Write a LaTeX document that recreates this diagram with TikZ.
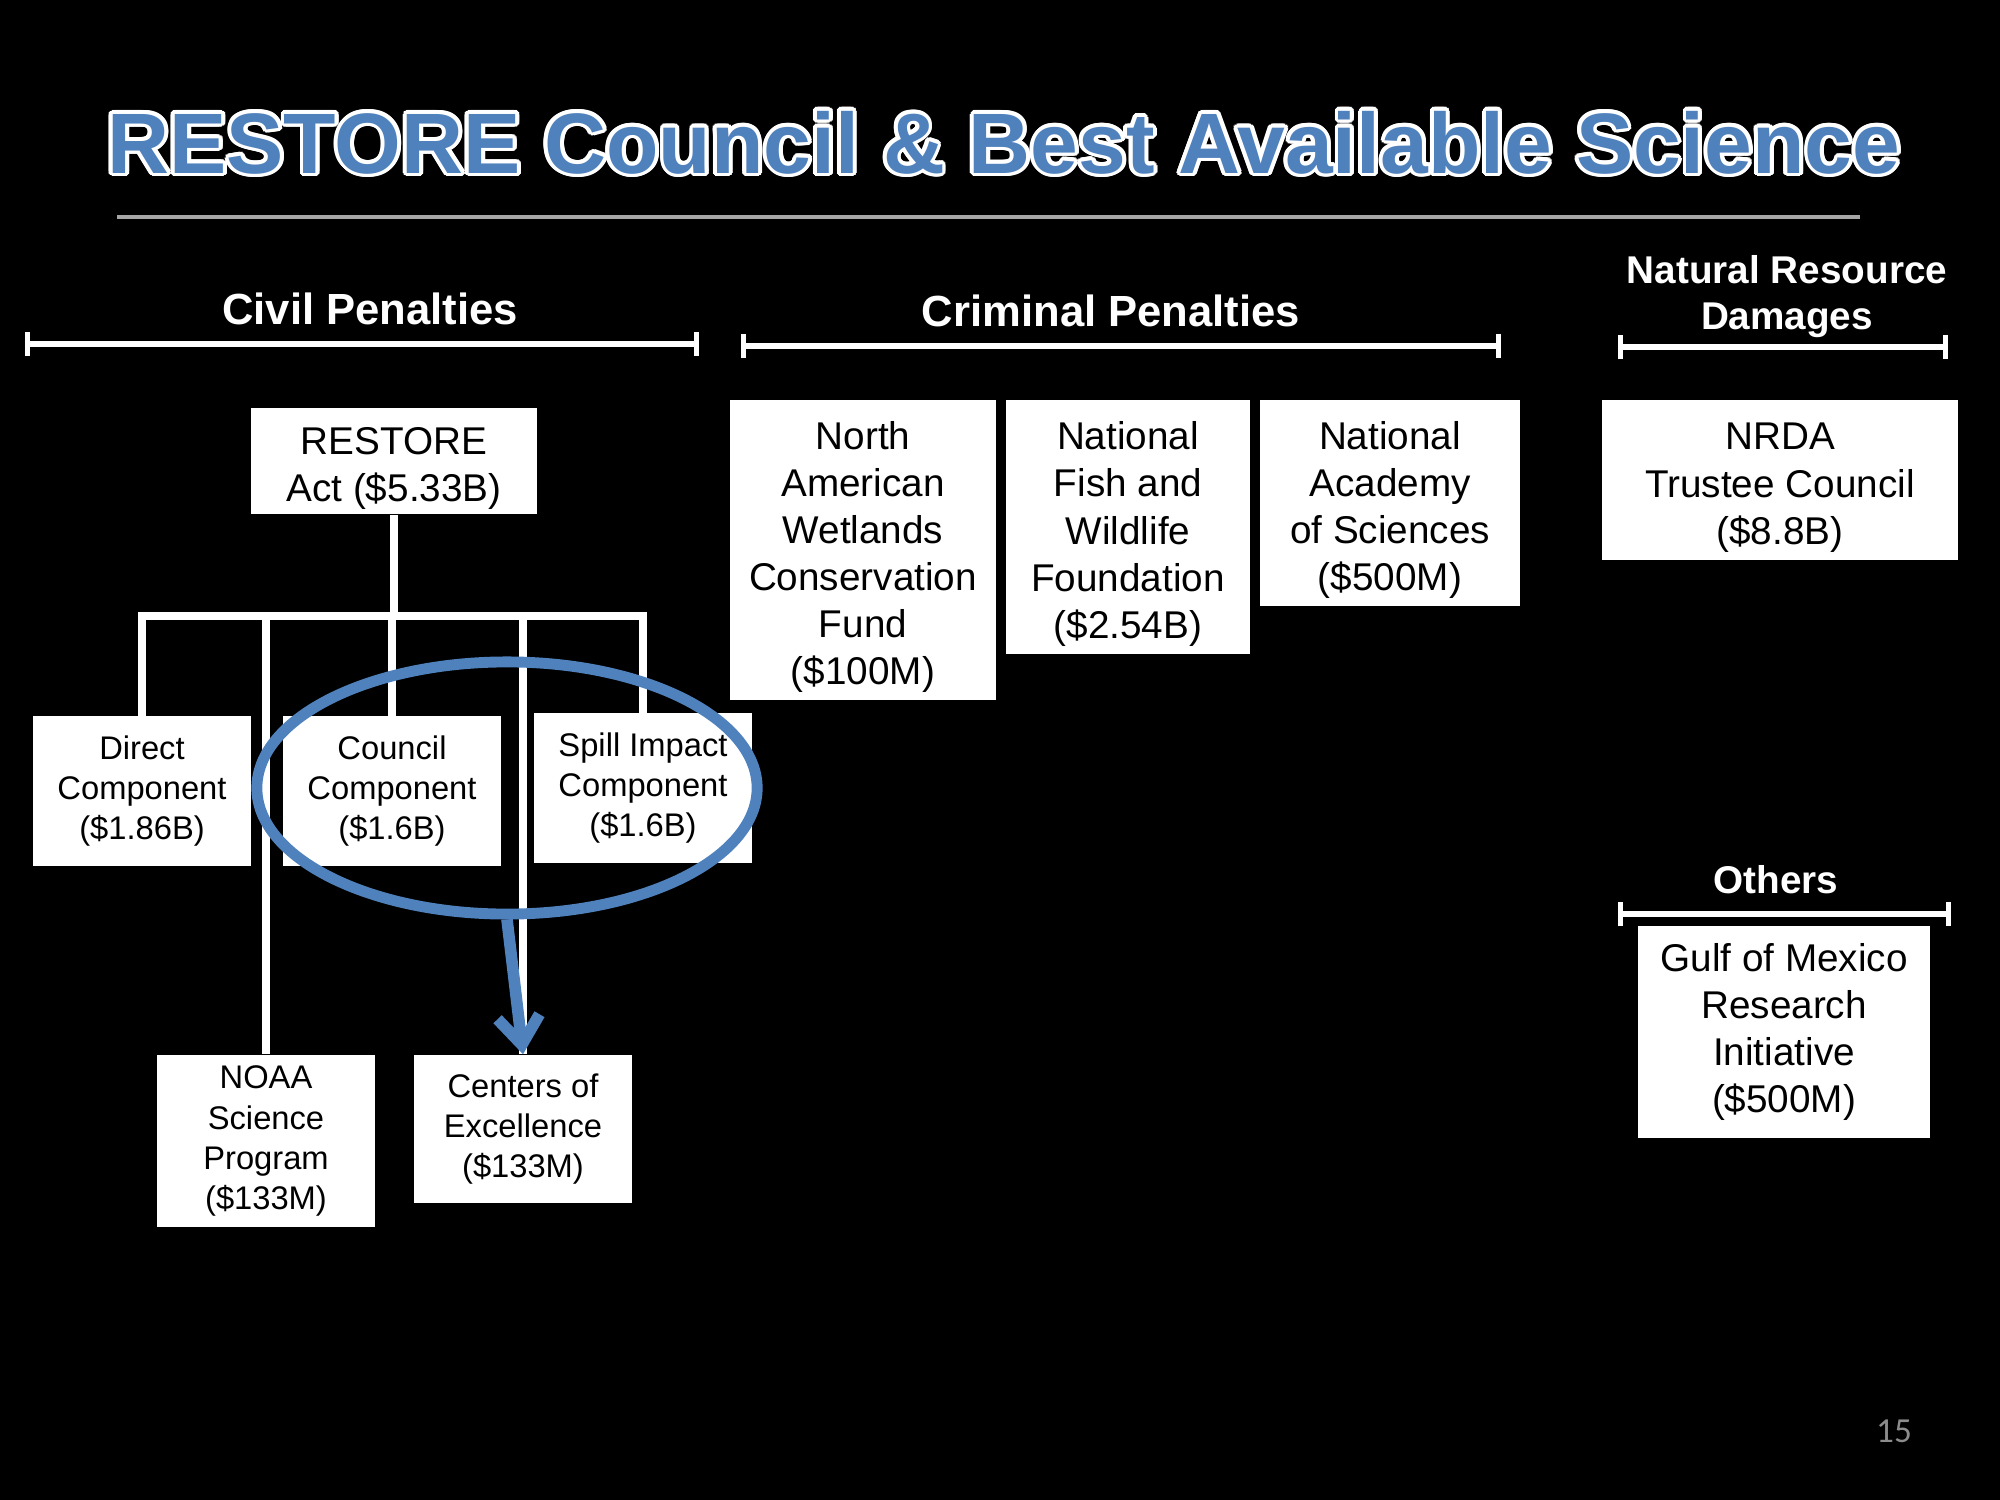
\documentclass[tikz,border=0pt]{standalone}
\usepackage{fontspec}
\setmainfont{Liberation Sans}
\newfontfamily\slidenum{Carlito}
\usetikzlibrary{shapes.geometric, arrows.meta, positioning}
\definecolor{slideBlue}{HTML}{4F81BD}
\definecolor{ruleGray}{HTML}{A6A6A6}
\definecolor{numGray}{HTML}{8C8C8C}
\newcommand{\lift}{\rule{0pt}{12pt}}
\tikzset{
  titletext/.style = {anchor=base, inner sep=0pt,
                      font=\bfseries\fontsize{24.4}{28}\selectfont},
  fundbox/.style   = {rectangle, fill=white, text=black, align=center,
                      inner sep=0pt, font=\fontsize{11}{13.4}\selectfont},
  subbox/.style    = {fundbox, font=\fontsize{9.3}{11.4}\selectfont},
  header/.style    = {text=white, align=center, inner sep=0pt,
                      font=\bfseries\fontsize{12.4}{14}\selectfont},
  smallheader/.style = {header, font=\bfseries\fontsize{11}{13.1}\selectfont},
  bracket/.style   = {draw=white, line width=1.5pt,
                      {Bar[width=7pt]}-{Bar[width=7pt]}},
  tree/.style      = {draw=white, line width=2pt},
  ring/.style      = {draw=slideBlue, line width=3.1pt, ellipse, inner sep=0pt},
  ringarrow/.style = {draw=slideBlue, line width=3.3pt,
                      -{Straight Barb[length=8pt, width=12pt]}},
}

\begin{document}
\begin{tikzpicture}[x=0.01cm, y=-0.01cm]

% Slide background
\fill[black] (0,0) rectangle (2000,1500);
\useasboundingbox (0,0) rectangle (2000,1500);

% Title with white outline
\foreach \a [count=\k] in {0,22.5,...,337.5}
  \node[titletext, text=white, shift={(\a:1.1pt)}] (glow\k) at (1004,173)
    {RESTORE Council \& Best Available Science};
\node[titletext, text=slideBlue] (title) at (1004,173)
  {RESTORE Council \& Best Available Science};
\draw[ruleGray, line width=1.4pt] (117,217) -- (1860,217);

% Headers
\node[header] (civil)    at (370,309)  {Civil Penalties};
\node[header] (criminal) at (1111,311) {Criminal Penalties};
\node[smallheader] (nrd)    at (1787,297) {Natural Resource\\Damages};
\node[smallheader] (others) at (1776,880) {Others};

% Brackets
\coordinate (civL) at (25,344);   \coordinate (civR) at (699,344);
\coordinate (crmL) at (741,346);  \coordinate (crmR) at (1501,346);
\coordinate (nrdL) at (1618,347); \coordinate (nrdR) at (1948,347);
\coordinate (othL) at (1618,914); \coordinate (othR) at (1951,914);
\draw[bracket] (civL) -- (civR);
\draw[bracket] (crmL) -- (crmR);
\draw[bracket] (nrdL) -- (nrdR);
\draw[bracket] (othL) -- (othR);

% Civil penalties tree
\node[fundbox, minimum width=2.85cm, minimum height=1.06cm] (restore) at (394,461)
  {\lift RESTORE\\Act (\$5.33B)};
\node[subbox, minimum width=2.18cm, minimum height=1.49cm] (direct)  at (142,791)
  {Direct\\Component\\(\$1.86B)};
\node[subbox, minimum width=2.17cm, minimum height=1.49cm] (council) at (392,791)
  {Council\\Component\\(\$1.6B)};
\node[subbox, minimum width=2.17cm, minimum height=1.49cm] (spill)   at (643,788)
  {Spill Impact\\Component\\(\$1.6B)};
\node[subbox, minimum width=2.18cm, minimum height=1.72cm] (noaa)    at (266,1141)
  {NOAA\\Science\\Program\\(\$133M)};
\node[subbox, minimum width=2.17cm, minimum height=1.48cm] (coe)     at (523,1129)
  {Centers of\\Excellence\\(\$133M)};

\coordinate (bar) at (0,616);
\draw[tree] (restore.south) -- (restore.south |- bar);
\draw[tree] (direct.north) -- (direct.north |- bar) -- (spill.north |- bar) -- (spill.north);
\draw[tree] (council.north) -- (council.north |- bar);
\draw[tree] (noaa.north) -- (noaa.north |- bar);
\draw[tree] (coe.north) -- (coe.north |- bar);

% Criminal penalties
\node[fundbox, minimum width=2.66cm, minimum height=3.00cm] (nawcf) at (863,550)
  {\lift North\\American\\Wetlands\\Conservation\\Fund\\(\$100M)};
\node[fundbox, minimum width=2.43cm, minimum height=2.54cm] (nfwf) at (1128,527)
  {\lift National\\Fish and\\Wildlife\\Foundation\\(\$2.54B)};
\node[fundbox, minimum width=2.60cm, minimum height=2.06cm] (nas) at (1390,503)
  {\lift National\\Academy\\of Sciences\\(\$500M)};

% Natural resource damages and others
\node[fundbox, minimum width=3.56cm, minimum height=1.59cm] (nrda) at (1780,480)
  {\lift NRDA\\Trustee Council\\(\$8.8B)};
\node[fundbox, minimum width=2.91cm, minimum height=2.11cm] (gomri) at (1784,1032)
  {Gulf of Mexico\\Research\\Initiative\\(\$500M)};

% Highlight
\node[ring, minimum width=5.0cm, minimum height=2.52cm] (circle) at (507,788) {};
\draw[ringarrow] (circle.south) -- (coe.north);

\node[text=numGray, font=\slidenum\fontsize{10}{12}\selectfont] (pagenum) at (1894,1431) {15};

\end{tikzpicture}
\end{document}
